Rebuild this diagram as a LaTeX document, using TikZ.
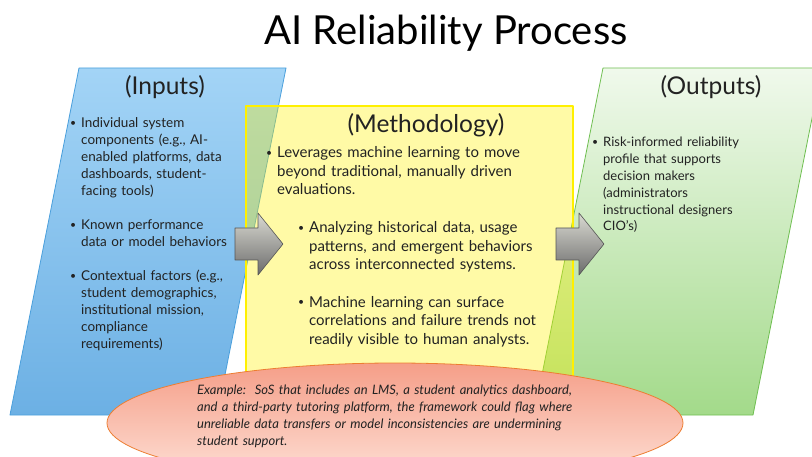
\documentclass[tikz,border=0pt]{standalone}
\usepackage{fontspec}
\setmainfont{Lato}
\definecolor{InTop}{HTML}{A3D4F6}
\definecolor{InBot}{HTML}{6CB0E4}
\definecolor{InEdge}{HTML}{4A9FDC}
\definecolor{OutTop}{HTML}{F0F9EC}
\definecolor{OutMid}{HTML}{C6E8B6}
\definecolor{OutBot}{HTML}{A3DA8A}
\definecolor{OutEdge}{HTML}{70BF52}
\definecolor{MethEdge}{HTML}{FFF000}
\definecolor{ArrTop}{HTML}{DADAD2}
\definecolor{ArrBot}{HTML}{6C6C6C}
\definecolor{ArrEdge}{HTML}{555555}
\definecolor{ExTop}{HTML}{F59E88}
\definecolor{ExBot}{HTML}{FEE2D8}
\definecolor{ExEdge}{HTML}{ED7D31}
\definecolor{TextGray}{HTML}{222222}
% bullet with hanging indent, lines broken by hand
\newcommand{\bdot}{\raisebox{0.2ex}{\fontsize{10.5}{10.5}\selectfont\textbullet}}
\newcommand{\bitem}[1]{\noindent\hangindent=11pt\hangafter=1\makebox[11pt][l]{\bdot}#1\par}

\begin{document}
\begin{tikzpicture}[x=1pt,y=-1pt,line join=round,text=TextGray,
  head/.style={anchor=base,inner sep=0pt,font=\fontsize{24.5}{28}\selectfont},
  bullets/.style={anchor=base west,inner sep=0pt,text width=#1},
  blockarrow/.style={draw=ArrEdge,line width=0.6pt,top color=ArrTop,bottom color=ArrBot}]
  \clip (0,0) rectangle (812,457);
  % input and output panels
  \draw[InEdge,line width=0.8pt,top color=InTop,bottom color=InBot] (79,68)--(286,68)--(217,415)--(10,415)--cycle;
  \draw[OutEdge,line width=0.8pt,top color=OutTop,middle color=OutMid,bottom color=OutBot] (603,68)--(822,68)--(753,415)--(534,415)--cycle;
  % methodology box, see-through
  \draw[MethEdge,line width=1.3pt,fill=yellow,fill opacity=0.35] (246,106) rectangle (573,400);
  \foreach \ax in {235,556}
    \draw[blockarrow] (\ax,228) -- ++(23,0) -- ++(0,-15) -- ++(25,31) -- ++(-25,31) -- ++(0,-15) -- ++(-23,0) -- cycle;

  \node[head,font=\fontsize{40}{46}\selectfont,text=black] (title) at (446,45) {AI Reliability Process};
  \node[head] (inhead) at (165,95) {(Inputs)};
  \node[head] (methhead) at (426,133) {(Methodology)};
  \node[head] (outhead) at (711,95) {(Outputs)};

  \node[bullets=170pt,font=\fontsize{13.5}{17}\selectfont] (inlist) at (70,128) {%
    \bitem{Individual system\newline components (e.g., AI-\newline enabled platforms, data\newline dashboards, student-\newline facing tools)}\vspace{17pt}
    \bitem{Known performance\newline data or model behaviors}\vspace{17pt}
    \bitem{Contextual factors (e.g.,\newline student demographics,\newline institutional mission,\newline compliance\newline requirements)}};
  \node[bullets=290pt,font=\fontsize{15}{18.5}\selectfont] (methmain) at (266,158) {%
    \bitem{Leverages machine learning to move\newline beyond traditional, manually driven\newline evaluations.}};
  \node[bullets=260pt,font=\fontsize{15}{18.5}\selectfont] (methsub) at (298,233) {%
    \bitem{Analyzing historical data, usage\newline patterns, and emergent behaviors\newline across interconnected systems.}\vspace{19pt}
    \bitem{Machine learning can surface\newline correlations and failure trends not\newline readily visible to human analysts.}};
  \node[bullets=180pt,font=\fontsize{13}{16.8}\selectfont] (outlist) at (592,147) {%
    \bitem{Risk-informed reliability\newline profile that supports\newline decision makers\newline (administrators\newline instructional designers\newline CIO’s)}};

  % worked example
  \draw[ExEdge,line width=0.8pt,top color=ExTop,bottom color=ExBot] (395,423) ellipse [x radius=288,y radius=60];
  \node[bullets=400pt,font=\fontsize{13}{16.7}\selectfont\itshape] (example) at (197,395) {%
    Example:\ \ SoS that includes an LMS, a student analytics dashboard,\newline
    and a third-party tutoring platform, the framework could flag where\newline
    unreliable data transfers or model inconsistencies are undermining\newline
    student support.};
\end{tikzpicture}
\end{document}
